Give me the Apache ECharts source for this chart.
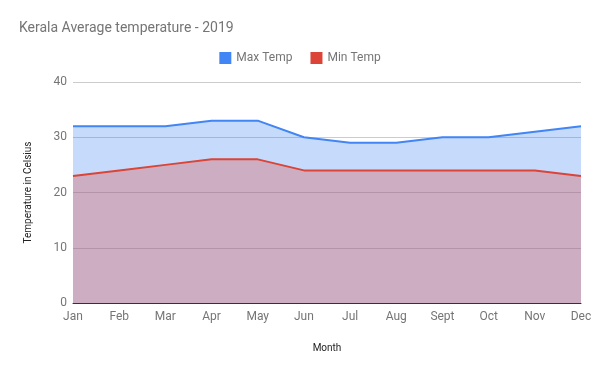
<!DOCTYPE html>
<html><head><meta charset="utf-8">
<script src="https://cdn.jsdelivr.net/npm/echarts@6/dist/echarts.min.js"></script>
<style>html,body{margin:0;padding:0;background:#fff}#c{width:600px;height:371px}</style>
</head><body><div id="c"></div>
<script>
const months = ["Jan","Feb","Mar","Apr","May","Jun","Jul","Aug","Sept","Oct","Nov","Dec"];
const maxTemp = [32,32,32,33,33,30,29,29,30,30,31,32];
const minTemp = [23,24,25,26,26,24,24,24,24,24,24,23];
const yTicks = [0,10,20,30,40];

const chart = echarts.init(document.getElementById('c'), null, {renderer:'canvas'});
const font = 'Roboto, Arial, sans-serif';
chart.setOption({
  animation:false,
  title:{text:'Kerala Average temperature - 2019', left:14, top:16,
    textStyle:{fontFamily:font, fontSize:14, fontWeight:'normal', color:'#757575'}},
  legend:{top:47, left:'center', itemWidth:12, itemHeight:12, itemGap:18,
    icon:'rect',
    textStyle:{fontFamily:font, fontSize:12, color:'#757575'},
    data:['Max Temp','Min Temp']},
  grid:{left:73, right:19, top:82, bottom:68},
  xAxis:{type:'category', data:months, boundaryGap:false,
    name:'Month', nameLocation:'middle', nameGap:40,
    nameTextStyle:{fontFamily:font, fontSize:10, color:'#222'},
    axisLine:{show:true, lineStyle:{color:'#333', width:1}},
    axisTick:{show:false},
    axisLabel:{fontFamily:font, fontSize:12, color:'#757575', margin:8, interval:0},
    splitLine:{show:false}},
  yAxis:{type:'value', min:yTicks[0], max:yTicks[yTicks.length-1], interval:10,
    name:'Temperature in Celsius', nameLocation:'middle', nameGap:40,
    nameTextStyle:{fontFamily:font, fontSize:10, color:'#222'},
    axisLine:{show:false}, axisTick:{show:false},
    axisLabel:{fontFamily:font, fontSize:12, color:'#757575', margin:6},
    splitLine:{lineStyle:{color:'#cccccc', width:1}}},
  series:[
    {name:'Max Temp', type:'line', data:maxTemp, symbol:'none',
      itemStyle:{color:'#4285f4'}, lineStyle:{color:'#4285f4', width:2},
      areaStyle:{color:'#4285f4', opacity:0.3}, z:2},
    {name:'Min Temp', type:'line', data:minTemp, symbol:'none',
      itemStyle:{color:'#db4437'}, lineStyle:{color:'#db4437', width:2},
      areaStyle:{color:'#db4437', opacity:0.3}, z:3}
  ]
});
</script></body></html>
